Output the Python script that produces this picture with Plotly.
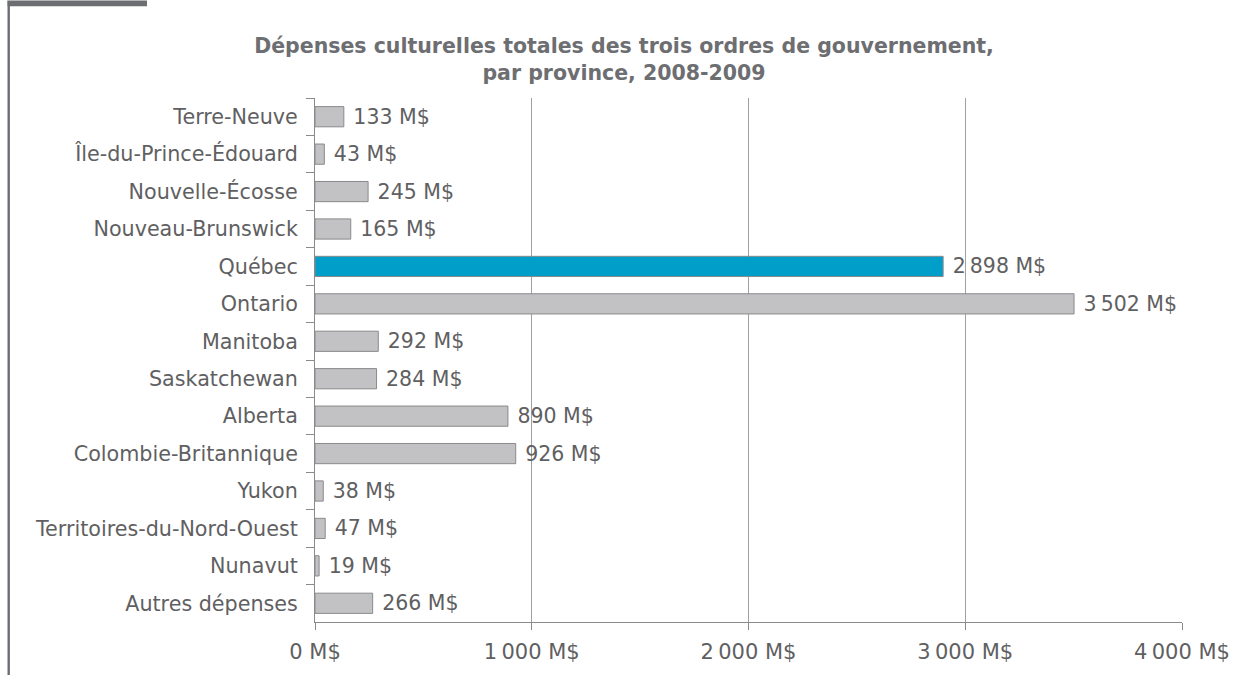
import plotly.graph_objects as go

categories = ["Terre-Neuve", "Île-du-Prince-Édouard", "Nouvelle-Écosse", "Nouveau-Brunswick",
              "Québec", "Ontario", "Manitoba", "Saskatchewan", "Alberta",
              "Colombie-Britannique", "Yukon", "Territoires-du-Nord-Ouest", "Nunavut",
              "Autres dépenses"]
values = [133, 43, 245, 165, 2898, 3502, 292, 284, 890, 926, 38, 47, 19, 266]
highlight = "Québec"
tick_values = [0, 1000, 2000, 3000, 4000]
tick_labels = [f"{v:,}".replace(",", "\u2009") + " M$" for v in tick_values]

FONT = "DejaVu Sans, Liberation Sans, Arial, sans-serif"
colors = ["#009ec9" if c == highlight else "#c2c2c4" for c in categories]

fig = go.Figure(go.Bar(
    y=categories, x=values, orientation="h",
    marker=dict(color=colors, line=dict(color="#8a8a8c", width=1)),
    width=0.54,
    texttemplate="\u00a0%{x:,d} M$", textposition="outside",
    constraintext="none",
    textfont=dict(size=20.5, color="#5f6062", family=FONT),
    cliponaxis=False,
))

fig.update_layout(
    width=1248, height=675,
    margin=dict(l=315, r=66.3, t=97.5, b=53.3),
    plot_bgcolor="white", paper_bgcolor="white",
    separators=",\u2009",
    showlegend=False,
    font=dict(family=FONT, color="#5f6062"),
    title=dict(
        text="Dépenses culturelles totales des trois ordres de gouvernement,<br>par province, 2008-2009",
        x=0.5, xref="container", xanchor="center",
        y=1 - 53 / 675, yref="container", yanchor="top",
        font=dict(size=20.5, color="#6d6e71", family=FONT, weight="bold"),
    ),
    xaxis=dict(
        range=[0, 4000], tickmode="array", tickvals=tick_values, ticktext=tick_labels,
        showgrid=True, gridcolor="#a0a0a0", gridwidth=1,
        showline=True, linecolor="#8a8a8c", linewidth=1,
        ticks="outside", ticklen=7, tickcolor="#8a8a8c",
        tickfont=dict(size=21, color="#5f6062", family=FONT),
        ticklabelstandoff=4, zeroline=False,
    ),
    yaxis=dict(
        categoryorder="array", categoryarray=categories, autorange="reversed",
        showline=True, linecolor="#8a8a8c", linewidth=1,
        ticks="outside", ticklen=8, tickcolor="#8a8a8c", tickson="boundaries",
        tickfont=dict(size=20.7, color="#5f6062", family=FONT),
        ticklabelstandoff=12, showgrid=False,
    ),
    shapes=[
        dict(type="rect", xref="paper", yref="paper", xsizemode="pixel", ysizemode="pixel",
             xanchor=0, yanchor=1, x0=-307.7, x1=-168, y0=97.5, y1=91.8,
             fillcolor="#6d6e71", line=dict(width=0)),
        dict(type="line", xref="paper", yref="paper", xsizemode="pixel", ysizemode="pixel",
             xanchor=0, yanchor=1, x0=-306.3, x1=-306.3, y0=92, y1=-580,
             line=dict(color="#6d6e71", width=2.4)),
    ],
)

fig.write_html("out.html", config={"displayModeBar": False},
               post_script="document.body.style.margin='0px';")
